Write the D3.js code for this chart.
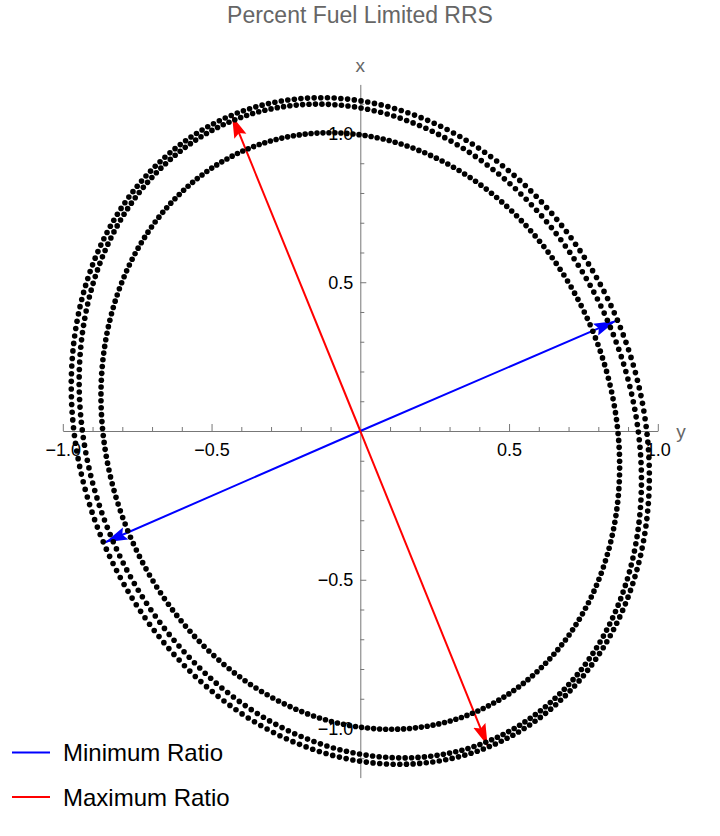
<!DOCTYPE html>
<html>
<head>
<meta charset="utf-8">
<script src="https://cdn.jsdelivr.net/npm/d3@7"></script>
<style>
  html, body { margin: 0; padding: 0; background: #fff; }
  svg { display: block; font-family: "Liberation Sans", Arial, Helvetica, sans-serif; }
</style>
</head>
<body>
<svg id="chart" width="720" height="836"></svg>
<script>
// ---- data ----
const title = "Percent Fuel Limited RRS";
const hAxisLabel = "y";
const vAxisLabel = "x";
// three rings of dots: semi-axes along the two principal directions, tilt in degrees
const ringNames   = ["outer", "middle", "inner"];
const ringMajor   = [1.146, 1.128, 1.021];
const ringMinor   = [0.941, 0.910, 0.850];
const ringTilt    = [21.7, 22.5, 20.0];
const dotsPerRing = 270;
// arrows: origin -> tip
const arrowNames = ["Minimum Ratio", "Minimum Ratio", "Maximum Ratio", "Maximum Ratio"];
const arrowTipH  = [0.859, -0.857, -0.431, 0.428];
const arrowTipV  = [0.370, -0.374, 1.059, -1.058];
const legendNames  = ["Minimum Ratio", "Maximum Ratio"];
const legendColors = ["#0000ff", "#ff0000"];
// ticks
const hTickLabels = [-1.0, -0.5, 0.5, 1.0];
const vTickLabels = [-1.0, -0.5, 0.5, 1.0];
const hMinorTicks = [-0.9,-0.8,-0.7,-0.6,-0.4,-0.3,-0.2,-0.1,0.1,0.2,0.3,0.4,0.6,0.7,0.8,0.9];
const vMinorTicks = [-1.1,-0.9,-0.8,-0.7,-0.6,-0.4,-0.3,-0.2,-0.1,0.1,0.2,0.3,0.4,0.6,0.7,0.8,0.9,1.1];

// ---- drawing ----
const svg = d3.select("#chart");
const h = d3.scaleLinear().domain([-1, 1]).range([62.8, 657.8]);
const v = d3.scaleLinear().domain([-1.165, 1.165]).range([777.6, 84.4]);
const x0 = h(0), y0 = v(0);
const axisColor = "#777";

// title
svg.append("text").attr("x", 360).attr("y", 23).attr("text-anchor", "middle")
  .attr("font-size", 23).attr("fill", "#666").text(title);

// horizontal axis
const gH = svg.append("g").attr("transform", `translate(0,${y0})`);
gH.call(d3.axisBottom(h).tickValues(hMinorTicks).tickFormat("").tickSizeInner(-4).tickSizeOuter(0));
const gH2 = svg.append("g").attr("transform", `translate(0,${y0})`);
gH2.call(d3.axisBottom(h).tickValues(hTickLabels).tickFormat(d3.format(".1f"))
  .tickSizeInner(-7).tickSizeOuter(0).tickPadding(12));
gH2.select(".domain").remove();

// vertical axis
const gV = svg.append("g").attr("transform", `translate(${x0},0)`);
gV.call(d3.axisLeft(v).tickValues(vMinorTicks).tickFormat("").tickSizeInner(-4).tickSizeOuter(0));
const gV2 = svg.append("g").attr("transform", `translate(${x0},0)`);
gV2.call(d3.axisLeft(v).tickValues(vTickLabels).tickFormat(d3.format(".1f"))
  .tickSizeInner(-6).tickSizeOuter(0).tickPadding(7));
gV2.select(".domain").remove();

svg.selectAll(".domain, .tick line").attr("stroke", axisColor).attr("stroke-width", 1);
svg.selectAll(".tick text").attr("font-size", 18).attr("fill", "#000")
  .attr("font-family", "'Liberation Sans', Arial, sans-serif");

// axis labels
svg.append("text").attr("x", x0).attr("y", 72).attr("text-anchor", "middle")
  .attr("font-size", 19).attr("fill", "#666").text(vAxisLabel);
svg.append("text").attr("x", 681).attr("y", 438).attr("text-anchor", "middle")
  .attr("font-size", 19).attr("fill", "#666").text(hAxisLabel);

// arrow markers
const defs = svg.append("defs");
legendColors.forEach((c, i) => {
  defs.append("marker").attr("id", "ah" + i)
    .attr("markerUnits", "userSpaceOnUse")
    .attr("viewBox", "0 -7 23 14").attr("refX", 22).attr("refY", 0)
    .attr("markerWidth", 23).attr("markerHeight", 14).attr("orient", "auto")
    .append("path").attr("d", "M0,-6.5L22,0L0,6.5L3.5,0Z").attr("fill", c);
});

// arrows
const arrows = arrowNames.map((n, i) => ({ name: n, th: arrowTipH[i], tv: arrowTipV[i] }));
svg.append("g").selectAll("line").data(arrows).join("line")
  .attr("x1", x0).attr("y1", y0)
  .attr("x2", d => h(d.th)).attr("y2", d => v(d.tv))
  .attr("stroke", d => legendColors[legendNames.indexOf(d.name)])
  .attr("stroke-width", 2)
  .attr("marker-end", d => `url(#ah${legendNames.indexOf(d.name)})`);

// rings of dots
const dots = [];
ringNames.forEach((name, r) => {
  const phi = ringTilt[r] * Math.PI / 180;
  const u = [Math.cos(phi), Math.sin(phi)];   // minor direction
  const w = [-Math.sin(phi), Math.cos(phi)];  // major direction
  for (let k = 0; k < dotsPerRing; k++) {
    const t = 2 * Math.PI * k / dotsPerRing;
    const a = ringMinor[r] * Math.cos(t), b = ringMajor[r] * Math.sin(t);
    dots.push({ ring: name, hv: a * u[0] + b * w[0], vv: a * u[1] + b * w[1] });
  }
});
svg.append("g").selectAll("circle").data(dots).join("circle")
  .attr("cx", d => h(d.hv)).attr("cy", d => v(d.vv)).attr("r", 2.8).attr("fill", "#000");

// legend
const lg = svg.append("g");
legendNames.forEach((n, i) => {
  const y = 752.5 + i * 44.5;
  lg.append("line").attr("x1", 12).attr("x2", 50).attr("y1", y).attr("y2", y)
    .attr("stroke", legendColors[i]).attr("stroke-width", 2);
  lg.append("text").attr("x", 63).attr("y", y + 8.5).attr("font-size", 24).attr("fill", "#000").text(n);
});
</script>
</body>
</html>
